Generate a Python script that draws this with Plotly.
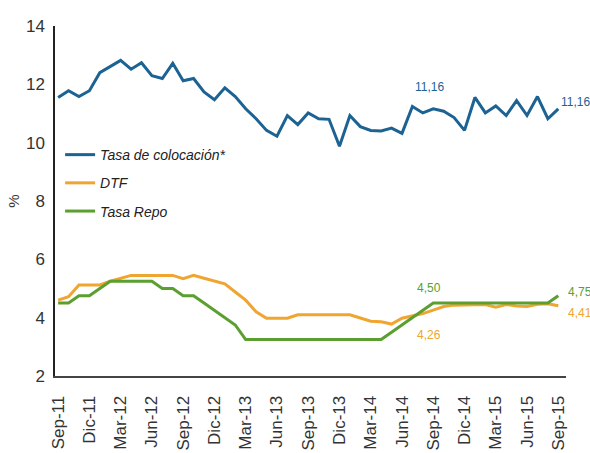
import plotly.graph_objects as go

months = list(range(49))  # Sep-11 ... Sep-15, monthly
tick_pos = list(range(0, 49, 3))
tick_labels = ["Sep-11", "Dic-11", "Mar-12", "Jun-12", "Sep-12", "Dic-12", "Mar-13", "Jun-13",
               "Sep-13", "Dic-13", "Mar-14", "Jun-14", "Sep-14", "Dic-14", "Mar-15", "Jun-15", "Sep-15"]

tasa_colocacion = [11.55, 11.78, 11.58, 11.78, 12.40, 12.60, 12.82, 12.52, 12.74, 12.30,
                   12.20, 12.72, 12.12, 12.20, 11.74, 11.47, 11.88, 11.58, 11.16, 10.82,
                   10.42, 10.22, 10.93, 10.62, 11.02, 10.82, 10.80, 9.88, 10.93, 10.55,
                   10.42, 10.40, 10.50, 10.32, 11.24, 11.02, 11.16, 11.08, 10.86, 10.42,
                   11.55, 11.02, 11.26, 10.93, 11.44, 10.93, 11.58, 10.82, 11.16]

dtf = [4.60, 4.72, 5.12, 5.12, 5.12, 5.25, 5.34, 5.45, 5.45, 5.45,
       5.45, 5.45, 5.34, 5.45, 5.35, 5.25, 5.16, 4.88, 4.60, 4.20,
       3.98, 3.98, 3.98, 4.10, 4.10, 4.10, 4.10, 4.10, 4.10, 3.99,
       3.88, 3.86, 3.78, 3.98, 4.05, 4.14, 4.26, 4.38, 4.43, 4.44,
       4.45, 4.45, 4.36, 4.45, 4.40, 4.38, 4.46, 4.48, 4.41]

tasa_repo = [4.50, 4.50, 4.75, 4.75, 5.00, 5.25, 5.25, 5.25, 5.25, 5.25,
             5.00, 5.00, 4.75, 4.75, 4.50, 4.25, 4.00, 3.75, 3.25, 3.25,
             3.25, 3.25, 3.25, 3.25, 3.25, 3.25, 3.25, 3.25, 3.25, 3.25,
             3.25, 3.25, 3.50, 3.75, 4.00, 4.25, 4.50, 4.50, 4.50, 4.50,
             4.50, 4.50, 4.50, 4.50, 4.50, 4.50, 4.50, 4.50, 4.75]

BLUE = "#1c6394"
ORANGE = "#f0a530"
GREEN = "#5a9f2f"
FONT = "Liberation Sans, Arial, sans-serif"

fig = go.Figure()
series = [("Tasa de colocación*", tasa_colocacion, BLUE, "g1"),
          ("DTF", dtf, ORANGE, "g2"),
          ("Tasa Repo", tasa_repo, GREEN, "g3")]
for name, vals, col, grp in series:
    fig.add_trace(go.Scatter(x=months, y=vals, mode="lines", name=name, legendgroup=grp,
                             line=dict(color=col, width=3), hoverinfo="skip"))

def fmt(v):
    return f"{v:.2f}".replace(".", ",")

# value labels (Sep-14 centred, Sep-15 to the right of the line end)
labels = [
    (36, tasa_colocacion[36], BLUE, "center", -4, 22),
    (48, tasa_colocacion[48], BLUE, "left", 1, 7),
    (36, tasa_repo[36], GREEN, "center", -4, 15),
    (48, tasa_repo[48], GREEN, "left", 8, 4),
    (36, dtf[36], ORANGE, "center", -4, -25),
    (48, dtf[48], ORANGE, "left", 8, -7),
]
for x, v, col, anc, xs, ys in labels:
    fig.add_annotation(x=x, y=v, text=fmt(v), showarrow=False, xanchor=anc, xshift=xs, yshift=ys,
                       font=dict(family=FONT, size=12, color=col))

fig.update_layout(
    width=590, height=453,
    margin=dict(l=55, r=24, t=26, b=77),
    paper_bgcolor="white", plot_bgcolor="white",
    showlegend=True,
    legend=dict(x=0.010, y=0.677, xanchor="left", yanchor="top",
                font=dict(family=FONT, size=14, color="#222", style="italic"),
                bgcolor="rgba(0,0,0,0)", tracegroupgap=7, itemwidth=30),
    xaxis=dict(range=[-0.3, 48.74], tickmode="array", tickvals=tick_pos, ticktext=tick_labels,
               tickangle=-90, tickfont=dict(family=FONT, size=17, color="#333"),
               showgrid=False, zeroline=False, showline=True, linecolor="#444", linewidth=2,
               ticks="", ticklabelstandoff=11, automargin=False, fixedrange=True),
    yaxis=dict(range=[2, 14], dtick=2, tickfont=dict(family=FONT, size=17, color="#333"),
               showgrid=False, zeroline=False, showline=True, linecolor="#222", linewidth=1.5,
               ticks="", ticklabelstandoff=5, automargin=False, fixedrange=True,
               title=dict(text="%", font=dict(family=FONT, size=15, color="#333"), standoff=3)),
)

# remove the browser's default page margin so the 590x453 figure fills the window
fig.write_html("out.html", config={"displayModeBar": False},
               post_script="document.body.style.margin='0';document.body.style.overflow='hidden';")
